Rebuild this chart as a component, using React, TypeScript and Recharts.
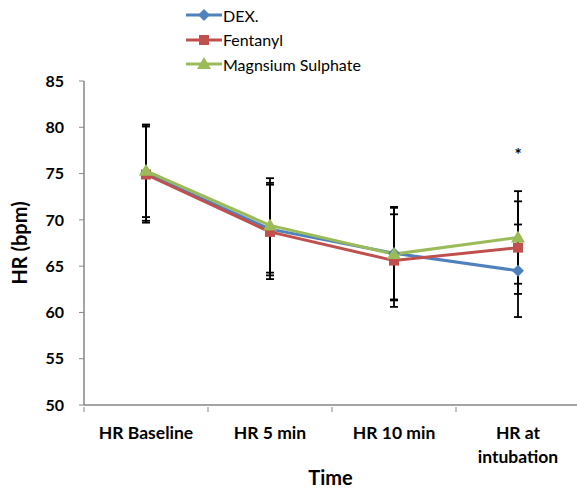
import { LineChart, Line, XAxis, YAxis, ErrorBar, Legend, ReferenceDot } from 'recharts'

const CATEGORIES = ['HR Baseline', 'HR 5 min', 'HR 10 min', 'HR at intubation']
const DEX = [75.0, 69.0, 66.4, 64.5]
const FENTANYL = [74.9, 68.7, 65.6, 67.0]
const MGSO4 = [75.3, 69.4, 66.3, 68.1]
const DEX_SD = [5.1, 5.0, 5.0, 5.0]
const FENTANYL_SD = [5.2, 5.1, 5.0, 5.0]
const MGSO4_SD = [5.0, 5.1, 5.0, 5.0]
const Y_TICKS = [50, 55, 60, 65, 70, 75, 80, 85]

const SERIES = [
  { key: 'dex', sd: 'dexSd', color: '#4F81BD', label: 'DEX.', shape: 'diamond' },
  { key: 'fentanyl', sd: 'fentanylSd', color: '#C0504D', label: 'Fentanyl', shape: 'square' },
  { key: 'mg', sd: 'mgSd', color: '#9BBB59', label: 'Magnsium Sulphate', shape: 'triangle' },
]

const data = CATEGORIES.map((name, i) => ({
  name,
  dex: DEX[i],
  fentanyl: FENTANYL[i],
  mg: MGSO4[i],
  dexSd: DEX_SD[i],
  fentanylSd: FENTANYL_SD[i],
  mgSd: MGSO4_SD[i],
}))

const FONT = 'Lato, "Open Sans", sans-serif'
const AXIS = '#868686'

function Marker({ shape, color, cx, cy }: { shape: string; color: string; cx: number; cy: number }) {
  if (shape === 'diamond') {
    const r = 6
    return <path d={`M${cx},${cy - r}L${cx + r},${cy}L${cx},${cy + r}L${cx - r},${cy}Z`} fill={color} />
  }
  if (shape === 'square') {
    return <rect x={cx - 5} y={cy - 5} width={10} height={10} fill={color} />
  }
  return <path d={`M${cx},${cy - 7}L${cx + 7},${cy + 5}L${cx - 7},${cy + 5}Z`} fill={color} />
}

function makeDot(shape: string, color: string) {
  return (props: any) => {
    if (props.cx == null || props.cy == null) return <g key={props.key} />
    return <Marker key={props.key} shape={shape} color={color} cx={props.cx} cy={props.cy} />
  }
}

function XTick(props: any) {
  const { x, y, payload } = props
  const text: string = payload.value
  const lines = text === 'HR at intubation' ? ['HR at', 'intubation'] : [text]
  return (
    <g transform={`translate(${x},${y})`}>
      <line x1={-62} y1={0} x2={-62} y2={5} stroke={AXIS} />
      {lines.map((l, i) => (
        <text key={i} x={0} y={32 + i * 24} textAnchor="middle" fill="#000"
          style={{ fontFamily: FONT, fontWeight: 700, fontSize: 17.5 }}>
          {l}
        </text>
      ))}
    </g>
  )
}

function LegendContent() {
  return (
    <div style={{ fontFamily: FONT, fontSize: 16, color: '#000' }}>
      {SERIES.map(s => (
        <div key={s.key} style={{ display: 'flex', alignItems: 'center', height: 24.5 }}>
          <svg width={38} height={16}>
            <line x1={1} y1={8} x2={37} y2={8} stroke={s.color} strokeWidth={3} />
            <Marker shape={s.shape} color={s.color} cx={19} cy={8} />
          </svg>
          <span style={{ marginLeft: 0 }}>{s.label}</span>
        </div>
      ))}
    </div>
  )
}

export default function App() {
  return (
    <div style={{ position: 'absolute', left: 0, top: 0, width: 577, height: 490, background: '#fff' }}>
      <LineChart width={577} height={490} data={data}
        margin={{ top: 81, right: 0, bottom: 0, left: 14 }}>
        <XAxis
          dataKey="name"
          padding={{ left: 62, right: 59 }}
          axisLine={{ stroke: AXIS, strokeWidth: 1.5 }}
          tickLine={false}
          tickSize={0}
          tick={<XTick />}
          interval={0}
          height={85}
          label={{
            content: ({ viewBox }: any) => (
              <text x={viewBox.x + viewBox.width / 2} y={viewBox.y + 80} textAnchor="middle"
                style={{ fontFamily: FONT, fontWeight: 700, fontSize: 20, fill: '#000' }}>
                Time
              </text>
            ),
          }}
        />
        <YAxis
          domain={[50, 85]}
          ticks={Y_TICKS}
          interval={0}
          width={70}
          axisLine={{ stroke: AXIS, strokeWidth: 1.5 }}
          tickLine={{ stroke: AXIS }}
          tickSize={5}
          tickMargin={15}
          tick={{ fill: '#000', fontFamily: FONT, fontWeight: 700, fontSize: 16 }}
          label={{
            content: ({ viewBox }: any) => {
              const cy = viewBox.y + viewBox.height / 2
              return (
                <text x={27} y={cy} transform={`rotate(-90, 27, ${cy})`} textAnchor="middle"
                  style={{ fontFamily: FONT, fontWeight: 700, fontSize: 20, fill: '#000' }}>
                  HR (bpm)
                </text>
              )
            },
          }}
        />
        <Legend
          layout="vertical"
          align="center"
          verticalAlign="middle"
          content={<LegendContent />}
          wrapperStyle={{ top: 3, left: 185, width: 'auto' }}
        />
        {SERIES.map(s => (
          <Line
            key={s.key}
            dataKey={s.key}
            stroke={s.color}
            strokeWidth={3}
            dot={makeDot(s.shape, s.color)}
            activeDot={false}
            isAnimationActive={false}
          >
            <ErrorBar dataKey={s.sd} direction="y" width={4} stroke="#000" strokeWidth={1.8} />
          </Line>
        ))}
        <ReferenceDot
          x="HR at intubation"
          y={77.4}
          r={0}
          label={{ value: '*', position: 'center', dy: 4, style: { fontFamily: FONT, fontWeight: 700, fontSize: 17, fill: '#000' } }}
        />
      </LineChart>
    </div>
  )
}
